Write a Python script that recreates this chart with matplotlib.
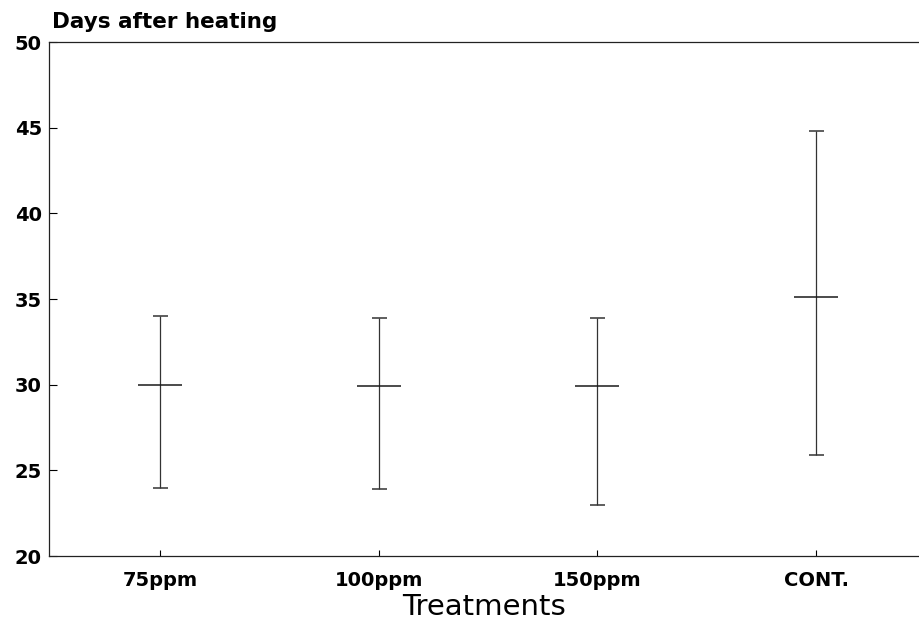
import numpy as np
import matplotlib
matplotlib.use("Agg")
import matplotlib.pyplot as plt

plt.rcParams['font.family'] = ['DejaVu Sans']

# datos
tratamientos = ["75ppm", "100ppm", "150ppm", "CONT."]
medias = [30.0, 29.9, 29.9, 35.1]
minimos = [24.0, 23.9, 23.0, 25.9]
maximos = [34.0, 33.9, 33.9, 44.8]
yticks = [20, 25, 30, 35, 40, 45, 50]

x = np.arange(len(tratamientos))
medias = np.array(medias)
yerr = [medias - np.array(minimos), np.array(maximos) - medias]

fig = plt.figure(figsize=(9.2, 6.37), dpi=100)
ax = fig.add_axes([0.053, 0.127, 0.947, 0.807])

ax.errorbar(x, medias, yerr=yerr, fmt='_', color='#1a1a1a', ecolor='#333333',
            elinewidth=0.9, capsize=5.4, capthick=1.1,
            markersize=32, markeredgewidth=1.1)

ax.set_xlim(-0.508, 3.475)
ax.set_ylim(20, 50)
ax.set_yticks(yticks)
ax.set_xticks(x)
ax.set_xticklabels(tratamientos)

for lab in ax.get_yticklabels() + ax.get_xticklabels():
    lab.set_fontweight('bold')
    lab.set_fontsize(14)

ax.tick_params(axis='y', direction='in', length=6, width=0.8, pad=5)
ax.tick_params(axis='x', direction='in', length=4, width=0.8, pad=11)

ax.spines['right'].set_visible(False)
for s in ['left', 'top', 'bottom']:
    ax.spines[s].set_linewidth(0.9)
    ax.spines[s].set_color('#222222')

ax.set_xlabel("Treatments", fontsize=21, labelpad=2)
fig.text(0.057, 0.956, "Days after heating", fontsize=15.5, fontweight='bold',
         ha='left', va='baseline')

plt.savefig("out.png", dpi=100)
